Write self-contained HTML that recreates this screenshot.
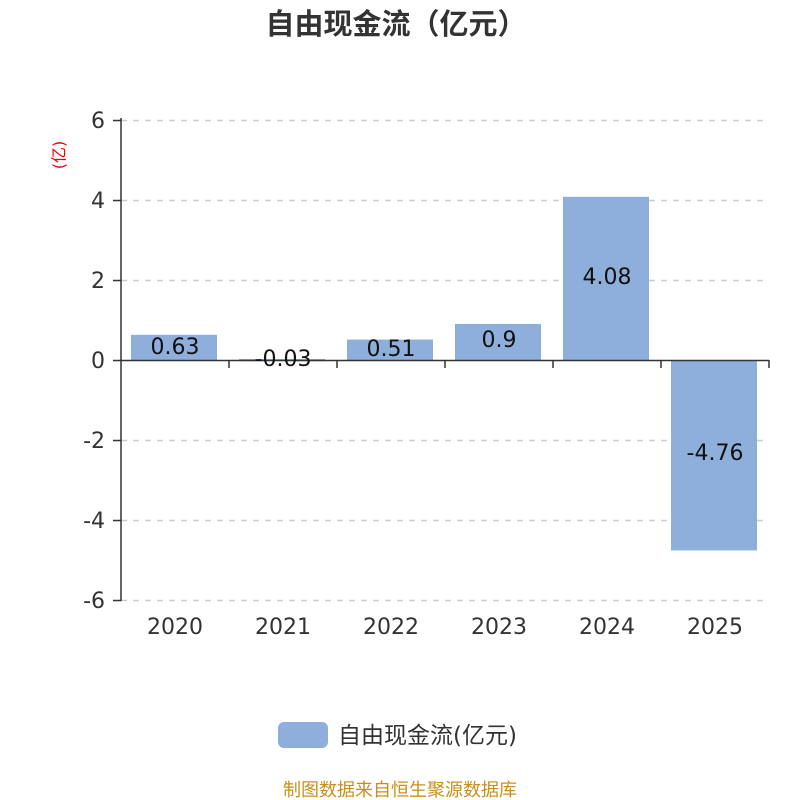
<!DOCTYPE html>
<html><head><meta charset="utf-8"><style>body{margin:0;background:#fff}svg{display:block}</style></head>
<body>
<svg width="800" height="800" xmlns="http://www.w3.org/2000/svg" font-family="DejaVu Sans, Noto Sans CJK SC, sans-serif">
<text x="396" y="34" text-anchor="middle" font-size="29" font-weight="bold" fill="#333">自由现金流（亿元）</text>
<text x="60" y="155" font-size="16" fill="#e00" transform="rotate(-90 60 155)" text-anchor="middle" dominant-baseline="middle">(亿)</text>
<g stroke="#ccc" stroke-width="1.5" stroke-dasharray="6,6">
<line x1="121" y1="120.5" x2="769" y2="120.5"/><line x1="121" y1="200.5" x2="769" y2="200.5"/><line x1="121" y1="280.5" x2="769" y2="280.5"/>
<line x1="121" y1="440.5" x2="769" y2="440.5"/><line x1="121" y1="520.5" x2="769" y2="520.5"/><line x1="121" y1="600.5" x2="769" y2="600.5"/>
</g>
<g fill="#8eaedb">
<rect x="131" y="334.8" width="86" height="25.2"/>
<rect x="239" y="359" width="86" height="2.2"/>
<rect x="347" y="339.6" width="86" height="20.4"/>
<rect x="455" y="324" width="86" height="36"/>
<rect x="563" y="196.8" width="86" height="163.2"/>
<rect x="671" y="360" width="86" height="190.4"/>
</g>
<g stroke="#333" stroke-width="1.5">
<line x1="121" y1="118" x2="121" y2="601"/>
<line x1="121" y1="360.5" x2="769" y2="360.5"/>
<line x1="113" y1="120.5" x2="121" y2="120.5"/><line x1="113" y1="200.5" x2="121" y2="200.5"/><line x1="113" y1="280.5" x2="121" y2="280.5"/><line x1="113" y1="360.5" x2="121" y2="360.5"/><line x1="113" y1="440.5" x2="121" y2="440.5"/><line x1="113" y1="520.5" x2="121" y2="520.5"/><line x1="113" y1="600.5" x2="121" y2="600.5"/>
<line x1="229" y1="360" x2="229" y2="368"/><line x1="337" y1="360" x2="337" y2="368"/><line x1="445" y1="360" x2="445" y2="368"/><line x1="553" y1="360" x2="553" y2="368"/><line x1="661" y1="360" x2="661" y2="368"/><line x1="769" y1="360" x2="769" y2="368"/>
</g>
<g font-size="22" fill="#333" text-anchor="end">
<text x="105" y="128">6</text><text x="105" y="208">4</text><text x="105" y="288">2</text><text x="105" y="368">0</text><text x="105" y="448">-2</text><text x="105" y="528">-4</text><text x="105" y="608">-6</text>
</g>
<g font-size="22" fill="#333" text-anchor="middle">
<text x="175" y="634">2020</text><text x="283" y="634">2021</text><text x="391" y="634">2022</text><text x="499" y="634">2023</text><text x="607" y="634">2024</text><text x="715" y="634">2025</text>
</g>
<g font-size="22" fill="#111" text-anchor="middle">
<text x="175" y="354">0.63</text><text x="283" y="366">-0.03</text><text x="391" y="356">0.51</text><text x="499" y="347">0.9</text><text x="607" y="284">4.08</text><text x="715" y="460">-4.76</text>
</g>
<rect x="278" y="722" width="50" height="26" rx="6" fill="#8eaedb"/>
<text x="338" y="743" font-size="23" fill="#333">自由现金流(亿元)</text>
<text x="400" y="796" font-size="18" fill="#c8901a" text-anchor="middle">制图数据来自恒生聚源数据库</text>
</svg>
</body></html>
